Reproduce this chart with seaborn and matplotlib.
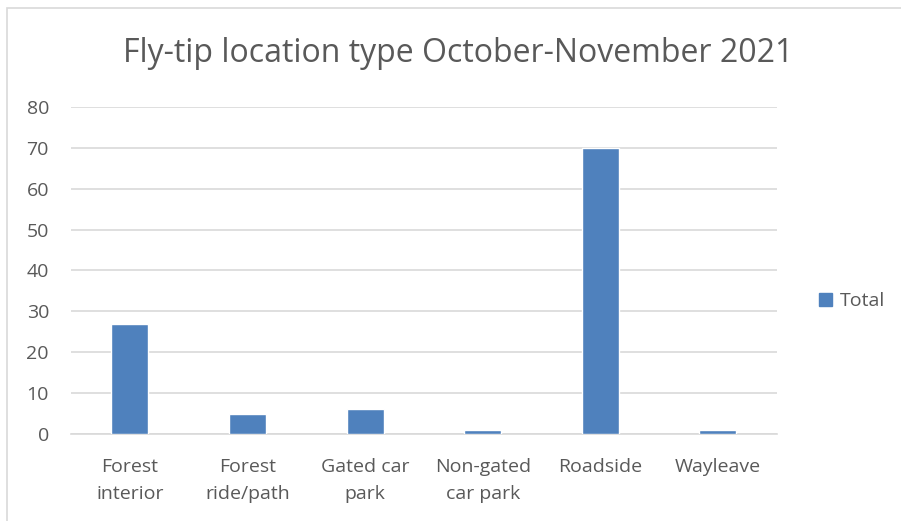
import matplotlib
matplotlib.use("Agg")
import matplotlib.pyplot as plt
import seaborn as sns
import pandas as pd
from matplotlib.patches import Rectangle, Patch

categories = ["Forest\ninterior", "Forest\nride/path", "Gated car\npark", "Non-gated\ncar park", "Roadside", "Wayleave"]
totals = [27, 5, 6, 1, 70, 1]
yticks = [0, 10, 20, 30, 40, 50, 60, 70, 80]
title = "Fly-tip location type October-November 2021"
series_name = "Total"

sns.set_theme(style="white")
plt.rcParams["font.family"] = ["Open Sans", "DejaVu Sans"]

bar_color = "#4F81BD"
text_color = "#595959"
grid_color = "#D9D9D9"

df = pd.DataFrame({"category": categories, "value": totals})

fig = plt.figure(figsize=(9.01, 5.21), dpi=100)
ax = fig.add_axes([0.079, 0.167, 0.783, 0.628])

sns.barplot(data=df, x="category", y="value", color=bar_color, width=0.315,
            saturation=1, ax=ax, zorder=3)

ax.set_ylim(0, 80)
ax.set_yticks(yticks)
ax.set_xlim(-0.5, len(categories) - 0.5)
ax.yaxis.grid(True, color=grid_color, linewidth=1.2, zorder=0)
ax.set_axisbelow(True)
for s in ["top", "right", "left"]:
    ax.spines[s].set_visible(False)
ax.spines["bottom"].set_color(grid_color)
ax.spines["bottom"].set_linewidth(1.2)
ax.tick_params(axis="both", length=0, colors=text_color, labelsize=14)
ax.tick_params(axis="x", pad=17)
ax.tick_params(axis="y", pad=16)
ax.set_xlabel("")
ax.set_ylabel("")
for lab in ax.get_xticklabels():
    lab.set_linespacing(1.7)

fig.text(0.509, 0.898, title, ha="center", va="center", fontsize=23, color=text_color)

handles = [Patch(facecolor=bar_color, edgecolor=bar_color, label=series_name)]
fig.legend(handles=handles, loc="center left", bbox_to_anchor=(0.900, 0.422),
           frameon=False, fontsize=14, labelcolor=text_color,
           handlelength=0.7, handleheight=0.7, handletextpad=0.4, borderaxespad=0)

fig.patches.append(Rectangle((0.0078, -0.01), 1.5, 0.995, transform=fig.transFigure,
                             fill=False, edgecolor="#D9D9D9", linewidth=1.2))

fig.savefig("out.png", dpi=100)
